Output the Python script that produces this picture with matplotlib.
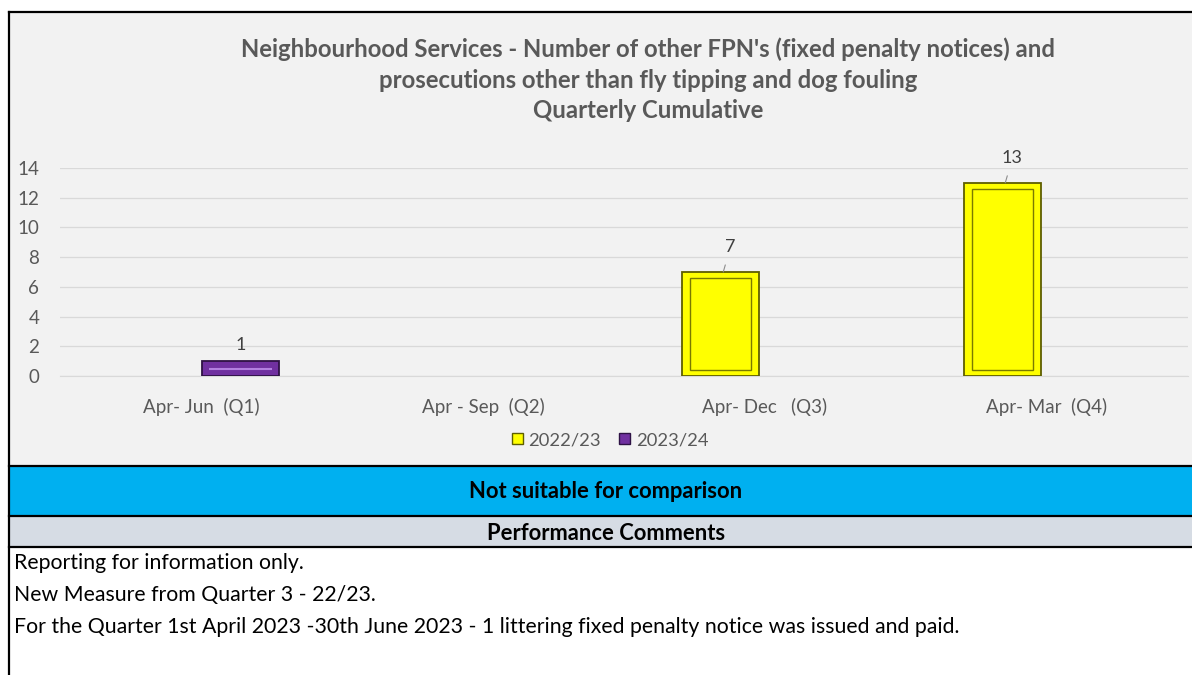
"""
Neighbourhood Services - other FPN's and prosecutions, quarterly cumulative.
"""
import matplotlib
matplotlib.use("Agg")
import matplotlib.pyplot as plt
import matplotlib.patches as mpatches
import numpy as np

plt.rcParams["font.family"] = ["Lato", "DejaVu Sans"]

quarters = ["Apr- Jun  (Q1)", "Apr - Sep  (Q2)", "Apr- Dec   (Q3)", "Apr- Mar  (Q4)"]
series_names = ["2022/23", "2023/24"]
values_2223 = [np.nan, np.nan, 7, 13]
values_2324 = [1, np.nan, np.nan, np.nan]
y_ticks = [0, 2, 4, 6, 8, 10, 12, 14]

title_lines = (
    "Neighbourhood Services - Number of other FPN's (fixed penalty notices) and\n"
    "prosecutions other than fly tipping and dog fouling\n"
    "Quarterly Cumulative"
)
status_text = "Not suitable for comparison"
comments_header = "Performance Comments"
comments = [
    "Reporting for information only.",
    "New Measure from Quarter 3 - 22/23.",
    "For the Quarter 1st April 2023 -30th June 2023 - 1 littering fixed penalty notice was issued and paid.",
]

W, H = 1192, 675
fig = plt.figure(figsize=(W / 100, H / 100), dpi=100)
fig.patch.set_facecolor("white")


def fy(py):
    # pixel-from-top to figure fraction
    return 1 - py / H


def band(y0, y1, color):
    fig.add_artist(mpatches.Rectangle((9 / W, fy(y1)), 1, fy(y0) - fy(y1),
                                      transform=fig.transFigure, facecolor=color,
                                      edgecolor="none", zorder=0))


def hline(py, color="black", lw=1.6):
    fig.add_artist(plt.Line2D([9 / W, 1], [fy(py), fy(py)], transform=fig.transFigure,
                              color=color, lw=lw, zorder=5))


band(12, 466, "#f2f2f2")
band(466, 516, "#00b0f0")
band(516, 547, "#d6dce4")
hline(12)
hline(466)
hline(516)
hline(547)
fig.add_artist(plt.Line2D([9 / W, 9 / W], [0, fy(12)], transform=fig.transFigure,
                          color="black", lw=1.6, zorder=5))

# chart
ax = fig.add_axes([60 / W, fy(376), 1128 / W, fy(168) - fy(376)])
ax.set_facecolor("none")
x = np.arange(len(quarters))
w = 0.275
offsets = [-0.158, 0.14]
face = ["#ffff00", "#7030a0"]
edge = ["#5e5e00", "#2e1245"]

for s, vals in enumerate([values_2223, values_2324]):
    xs = x + offsets[s]
    vals = np.array(vals, dtype=float)
    ax.bar(xs, vals, width=w, color=face[s], edgecolor=edge[s], linewidth=1.3, zorder=3)
    ok = ~np.isnan(vals)
    if s == 0:
        # inner bevel outline
        ax.bar(xs[ok], vals[ok] - 0.8, bottom=0.4, width=w * 0.78, fill=False,
               edgecolor="#7a7a00", linewidth=1.0, zorder=4)
    else:
        ax.hlines(vals[ok] / 2, xs[ok] - w * 0.4, xs[ok] + w * 0.4,
                  color="#b27fe0", lw=1.5, zorder=4)
    for xi, v in zip(xs[ok], vals[ok]):
        if s == 0:
            ax.annotate(f"{v:.0f}", xy=(xi + 0.01, v), xytext=(xi + 0.035, v + 1.65),
                        ha="center", va="center", fontsize=13, color="#404040",
                        arrowprops=dict(arrowstyle="-", color="#8c8c8c", lw=0.8,
                                        shrinkA=5, shrinkB=0), zorder=5)
        else:
            ax.text(xi, v + 1.1, f"{v:.0f}", ha="center", va="center",
                    fontsize=13, color="#404040", zorder=5)

ax.set_xlim(-0.5, len(quarters) - 0.5)
ax.set_ylim(0, 14)
ax.set_yticks(y_ticks)
ax.set_xticks(x)
ax.set_xticklabels(quarters)
ax.tick_params(axis="both", length=0, labelsize=13.5, labelcolor="#595959")
ax.tick_params(axis="y", pad=15)
ax.tick_params(axis="x", pad=16)
ax.grid(axis="y", color="#d9d9d9", lw=0.9, zorder=0)
ax.set_axisbelow(True)
for sp in ("top", "right", "left"):
    ax.spines[sp].set_visible(False)
ax.spines["bottom"].set_color("#d9d9d9")

fig.text(648 / W, fy(80), title_lines, ha="center", va="center", fontsize=17.2,
         fontweight="bold", color="#595959", linespacing=1.4)

handles = [mpatches.Patch(facecolor=face[i], edgecolor=edge[i], label=series_names[i])
           for i in range(2)]
fig.legend(handles=handles, loc="center", bbox_to_anchor=(610 / W, fy(440)), ncol=2,
           frameon=False, handlelength=0.6, handleheight=0.6, handletextpad=0.3,
           columnspacing=1.0, prop={"size": 13.2}, labelcolor="#595959")

fig.text(606 / W, fy(491), status_text, ha="center", va="center", fontsize=15.8,
         fontweight="bold", color="black")
fig.text(606 / W, fy(533), comments_header, ha="center", va="center", fontsize=15.8,
         fontweight="bold", color="black")
for i, line in enumerate(comments):
    fig.text(14 / W, fy(563 + 32 * i), line, ha="left", va="center", fontsize=15.3,
             color="black")

fig.savefig("out.png", dpi=100, facecolor=fig.get_facecolor())
